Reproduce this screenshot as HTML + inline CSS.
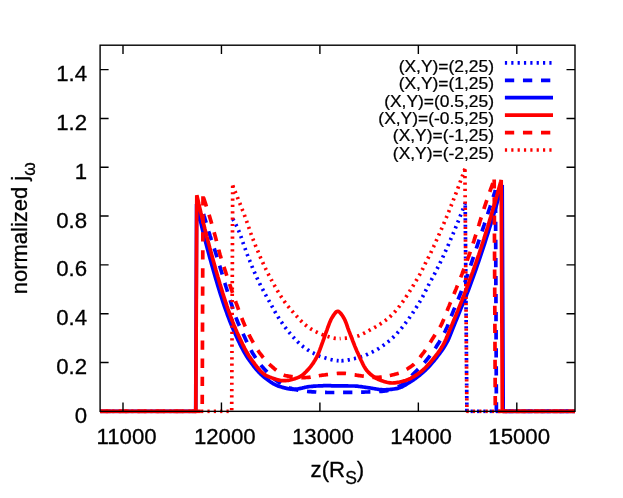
<!DOCTYPE html>
<html><head><meta charset="utf-8"><title>plot</title>
<style>html,body{margin:0;padding:0;background:#fff;}body{width:623px;height:498px;overflow:hidden;position:relative;font-family:"Liberation Sans",sans-serif;}</style>
</head><body>
<svg width="623" height="498" viewBox="0 0 623 498" style="position:absolute;left:0;top:0;will-change:transform">
<rect width="623" height="498" fill="#fff"/>
<defs><clipPath id="cp"><rect x="99.6" y="43.2" width="475.4" height="370.2"/></clipPath></defs>
<g clip-path="url(#cp)" fill="none" stroke-linejoin="bevel" stroke-linecap="butt">
<path d="M232.6,218.6 233.6,220.3 234.6,222.1 235.6,224.0 236.6,226.0 237.6,228.2 238.6,230.5 239.6,232.9 240.6,235.5 241.6,238.4 242.6,241.5 243.6,244.4 244.6,247.2 245.6,249.9 246.6,252.6 247.6,255.3 248.6,257.9 249.6,260.4 250.6,263.0 251.6,265.4 252.6,267.9 253.6,270.3 254.6,272.6 255.6,274.9 256.6,277.1 257.6,279.2 258.6,281.3 259.6,283.4 260.6,285.4 261.6,287.3 262.6,289.2 263.6,291.1 264.6,293.0 265.6,294.8 266.6,296.6 267.6,298.4 268.6,300.2 269.6,301.9 270.6,303.7 271.6,305.5 272.6,307.4 273.6,309.2 274.6,311.0 275.6,312.8 276.6,314.6 277.6,316.2 278.6,317.8 279.6,319.4 280.6,320.9 281.6,322.3 282.6,323.8 283.6,325.2 284.6,326.6 285.6,327.9 286.6,329.2 287.6,330.5 288.6,331.7 289.6,332.9 290.6,334.1 291.6,335.2 292.6,336.4 293.6,337.5 294.6,338.6 295.6,339.7 296.6,340.7 297.6,341.7 298.6,342.7 299.6,343.6 300.6,344.5 301.6,345.4 302.6,346.2 303.6,347.0 304.6,347.7 305.6,348.4 306.6,349.1 307.6,349.8 308.6,350.4 309.6,351.0 310.6,351.6 311.6,352.2 312.6,352.7 313.6,353.2 314.6,353.8 315.6,354.3 316.6,354.8 317.6,355.3 318.6,355.7 319.6,356.2 320.6,356.6 321.6,356.9 322.6,357.2 323.6,357.5 324.6,357.8 325.6,358.1 326.6,358.4 327.6,358.7 328.6,359.0 329.6,359.3 330.6,359.5 331.6,359.7 332.6,360.0 333.6,360.2 334.6,360.3 335.6,360.5 336.6,360.6 337.6,360.7 338.6,360.8" stroke="#0000ff" stroke-width="3.7" stroke-dasharray="2.20 4.15" stroke-dashoffset="6.08"/>
<path d="M339.6,360.8 340.6,360.8 341.6,360.8 342.6,360.7 343.6,360.6 344.6,360.5 345.6,360.4 346.6,360.2 347.6,360.1 348.6,359.9 349.6,359.7 350.6,359.5 351.6,359.3 352.6,359.0 353.6,358.8 354.6,358.6 355.6,358.3 356.6,358.1 357.6,357.9 358.6,357.6 359.6,357.3 360.6,357.0 361.6,356.7 362.6,356.4 363.6,356.0 364.6,355.6 365.6,355.2 366.6,354.7 367.6,354.3 368.6,353.8 369.6,353.4 370.6,352.9 371.6,352.4 372.6,351.9 373.6,351.4 374.6,350.9 375.6,350.3 376.6,349.8 377.6,349.2 378.6,348.6 379.6,347.9 380.6,347.3 381.6,346.6 382.6,345.9 383.6,345.2 384.6,344.5 385.6,343.7 386.6,342.9 387.6,342.2 388.6,341.4 389.6,340.6 390.6,339.7 391.6,338.8 392.6,337.9 393.6,336.9 394.6,335.9 395.6,334.9 396.6,333.8 397.6,332.7 398.6,331.6 399.6,330.4 400.6,329.3 401.6,328.1 402.6,326.8 403.6,325.6 404.6,324.3 405.6,323.0 406.6,321.6 407.6,320.3 408.6,318.9 409.6,317.5 410.6,316.0 411.6,314.6 412.6,313.1 413.6,311.6 414.6,310.0 415.6,308.5 416.6,306.9 417.6,305.3 418.6,303.7 419.6,302.1 420.6,300.4 421.6,298.6 422.6,296.8 423.6,294.8 424.6,292.9 425.6,290.9 426.6,288.9 427.6,286.9 428.6,285.0 429.6,283.1 430.6,281.2 431.6,279.4 432.6,277.5 433.6,275.7 434.6,273.8 435.6,271.9 436.6,269.9 437.6,267.9 438.6,265.9 439.6,263.9 440.6,261.8 441.6,259.7 442.6,257.6 443.6,255.4 444.6,253.2 445.6,251.0 446.6,248.8 447.6,246.5 448.6,244.2 449.6,241.9 450.6,239.6 451.6,237.3 452.6,234.9 453.6,232.5 454.6,230.1 455.6,227.7 456.6,225.3 457.6,222.8 458.6,220.3 459.6,217.8 460.6,215.2 461.6,212.7 462.6,210.1 463.6,207.4 464.6,204.8 465.2,203.2" stroke="#0000ff" stroke-width="3.7" stroke-dasharray="2.20 4.15" stroke-dashoffset="4.56"/>
<path d="M465.2,203.2 466.9,411.4 575.0,411.4" stroke="#0000ff" stroke-width="3.7" stroke-dasharray="2.20 4.15" stroke-dashoffset="3.95"/>
<path d="M203.0,212.0 204.0,215.5 205.0,218.9 206.0,222.3 207.0,225.7 208.0,229.0 209.0,232.3 210.0,235.5 211.0,238.6 212.0,241.6 213.0,244.7 214.0,247.7 215.0,250.8 216.0,253.9 217.0,257.1 218.0,260.3 219.0,263.6 220.0,266.9 221.0,270.2 222.0,273.5 223.0,276.8 224.0,280.1 225.0,283.5 226.0,286.8 227.0,290.0 228.0,293.3 229.0,296.5 230.0,299.6 231.0,302.8 232.0,305.8 233.0,308.9 234.0,312.0 235.0,314.9 236.0,317.7 237.0,320.3 238.0,322.7 239.0,325.1 240.0,327.3 241.0,329.5 242.0,331.6 243.0,333.7 244.0,335.8 245.0,337.9 246.0,340.1 247.0,342.2 248.0,344.3 249.0,346.3 250.0,348.3 251.0,350.2 252.0,352.0 253.0,353.7 254.0,355.3 255.0,356.9 256.0,358.4 257.0,359.8 258.0,361.3 259.0,362.6 260.0,363.9 261.0,365.2 262.0,366.4 263.0,367.6 264.0,368.7 265.0,369.8 266.0,370.9 267.0,371.9 268.0,373.0 269.0,374.0 270.0,375.0 271.0,375.9 272.0,376.9 273.0,377.8 274.0,378.7 275.0,379.5 276.0,380.3 277.0,381.0 278.0,381.7 279.0,382.4 280.0,383.0 281.0,383.6 282.0,384.1 283.0,384.7 284.0,385.2 285.0,385.7 286.0,386.2 287.0,386.7 288.0,387.1 289.0,387.6 290.0,388.0" stroke="#0000ff" stroke-width="3.7" stroke-dasharray="9.30 8.75" stroke-dashoffset="16.08"/>
<path d="M290.0,388.0 291.0,388.3 292.0,388.7 293.0,389.0 294.0,389.3 295.0,389.5 296.0,389.7 297.0,389.9 298.0,390.1 299.0,390.3 300.0,390.5 301.0,390.7 302.0,390.8 303.0,391.0 304.0,391.1 305.0,391.2 306.0,391.3 307.0,391.4 308.0,391.5 309.0,391.6 310.0,391.6 311.0,391.7 312.0,391.8 313.0,391.8 314.0,391.9 315.0,392.0 316.0,392.0 317.0,392.1 318.0,392.1 319.0,392.2 320.0,392.2 321.0,392.3 322.0,392.3 323.0,392.4 324.0,392.4 325.0,392.4 326.0,392.4 327.0,392.5 328.0,392.5 329.0,392.5 330.0,392.5 331.0,392.5 332.0,392.5 333.0,392.5 334.0,392.5 335.0,392.5 336.0,392.5 337.0,392.5 338.0,392.5 339.0,392.5 340.0,392.5 341.0,392.5 342.0,392.4 343.0,392.4 344.0,392.4 345.0,392.4 346.0,392.4 347.0,392.4 348.0,392.4 349.0,392.4 350.0,392.3 351.0,392.3 352.0,392.3 353.0,392.3 354.0,392.3 355.0,392.3 356.0,392.2 357.0,392.2 358.0,392.2 359.0,392.2 360.0,392.2 361.0,392.1 362.0,392.1 363.0,392.1 364.0,392.1 365.0,392.0 366.0,392.0 367.0,392.0 368.0,392.0 369.0,391.9 370.0,391.9 371.0,391.9 372.0,391.8 373.0,391.8 374.0,391.8 375.0,391.7 376.0,391.7 377.0,391.6 378.0,391.6 379.0,391.5 380.0,391.4 381.0,391.3 382.0,391.3 383.0,391.2 384.0,391.1 385.0,391.0 386.0,390.9 387.0,390.7 388.0,390.5 389.0,390.3 390.0,390.0 391.0,389.7 392.0,389.4" stroke="#0000ff" stroke-width="3.7" stroke-dasharray="9.30 8.75" stroke-dashoffset="0.62"/>
<path d="M392.0,389.4 393.0,389.1 394.0,388.7 395.0,388.3 396.0,387.9 397.0,387.4 398.0,387.0 399.0,386.5 400.0,386.0 401.0,385.5 402.0,384.8 403.0,384.1 404.0,383.3 405.0,382.4 406.0,381.5 407.0,380.6 408.0,379.6 409.0,378.5 410.0,377.5 411.0,376.4 412.0,375.4 413.0,374.3 414.0,373.3 415.0,372.3 416.0,371.3 417.0,370.3 418.0,369.3 419.0,368.3 420.0,367.3 421.0,366.2 422.0,365.2 423.0,364.1 424.0,363.0 425.0,361.9 426.0,360.7 427.0,359.5 428.0,358.3 429.0,357.0 430.0,355.7 431.0,354.4 432.0,353.0 433.0,351.6 434.0,350.2 435.0,348.7 436.0,347.2 437.0,345.6 438.0,344.0 439.0,342.4 440.0,340.7 441.0,339.0 442.0,337.2 443.0,335.4 444.0,333.5 445.0,331.5 446.0,329.4 447.0,327.2 448.0,324.8 449.0,322.3 450.0,319.7 451.0,317.1 452.0,314.4 453.0,311.9 454.0,309.4 455.0,307.0 456.0,304.5 457.0,302.1 458.0,299.7 459.0,297.2 460.0,294.7 461.0,292.2 462.0,289.7 463.0,287.1 464.0,284.5 465.0,281.9 466.0,279.1 467.0,276.3 468.0,273.4 469.0,270.4 470.0,267.4 471.0,264.4 472.0,261.4 473.0,258.4 474.0,255.4 475.0,252.4 476.0,249.4 477.0,246.4 478.0,243.4 479.0,240.4 480.0,237.4 481.0,234.4 482.0,231.3 483.0,228.3 484.0,225.3 485.0,222.2 486.0,219.2 487.0,216.2 488.0,213.1 489.0,210.0 490.0,207.0 491.0,203.9 492.0,200.8 493.0,197.7 494.0,194.6 495.0,191.6 495.5,190.0" stroke="#0000ff" stroke-width="3.7" stroke-dasharray="9.30 8.75" stroke-dashoffset="11.75"/>
<path d="M495.5,190.0 496.4,411.4 575.0,411.4" stroke="#0000ff" stroke-width="3.7" stroke-dasharray="9.30 8.75" stroke-dashoffset="4.30"/>
<path d="M100.1,411.4 195.7,411.4 196.6,204.0 197.6,208.5 198.6,212.9 199.6,217.3 200.6,221.6 201.6,225.9 202.6,230.0 203.6,234.1 204.6,238.1 205.6,241.9 206.6,245.7 207.6,249.5 208.6,253.2 209.6,256.9 210.6,260.6 211.6,264.2 212.6,267.8 213.6,271.3 214.6,274.8 215.6,278.2 216.6,281.6 217.6,285.0 218.6,288.3 219.6,291.5 220.6,294.7 221.6,297.8 222.6,300.9 223.6,303.9 224.6,306.8 225.6,309.7 226.6,312.5 227.6,315.3 228.6,317.9 229.6,320.5 230.6,323.1 231.6,325.6 232.6,328.0 233.6,330.3 234.6,332.6 235.6,334.8 236.6,336.9 237.6,339.1 238.6,341.2 239.6,343.3 240.6,345.3 241.6,347.3 242.6,349.2 243.6,351.1 244.6,352.9 245.6,354.6 246.6,356.2 247.6,357.8 248.6,359.2 249.6,360.6 250.6,362.0 251.6,363.4 252.6,364.7 253.6,366.0 254.6,367.3 255.6,368.5 256.6,369.7 257.6,370.8 258.6,371.9 259.6,373.0 260.6,374.0 261.6,374.9 262.6,375.8 263.6,376.7 264.6,377.5 265.6,378.3 266.6,379.1 267.6,379.8 268.6,380.6 269.6,381.3 270.6,382.0 271.6,382.6 272.6,383.3 273.6,383.9 274.6,384.4 275.6,384.9 276.6,385.4 277.6,385.8 278.6,386.2 279.6,386.5 280.6,386.8 281.6,387.1 282.6,387.4 283.6,387.6 284.6,387.9 285.6,388.1 286.6,388.4 287.6,388.6 288.6,388.8 289.6,388.9 290.6,389.1 291.6,389.2 292.6,389.3 293.6,389.3 294.6,389.3 295.6,389.2 296.6,389.1 297.6,389.0 298.6,388.8 299.6,388.6 300.6,388.4 301.6,388.2 302.6,387.9 303.6,387.7 304.6,387.4 305.6,387.2 306.6,387.0 307.6,386.8 308.6,386.7 309.6,386.5 310.6,386.5 311.6,386.4 312.6,386.3 313.6,386.2 314.6,386.2 315.6,386.1 316.6,386.0 317.6,386.0 318.6,385.9 319.6,385.9 320.6,385.8 321.6,385.8 322.6,385.8 323.6,385.7 324.6,385.7 325.6,385.7 326.6,385.7 327.6,385.7 328.6,385.7 329.6,385.7 330.6,385.7 331.6,385.8 332.6,385.8 333.6,385.8 334.6,385.8 335.6,385.8 336.6,385.8 337.6,385.9 338.6,385.9 339.6,385.9 340.6,385.9 341.6,385.9 342.6,385.9 343.6,385.9 344.6,385.9 345.6,385.9 346.6,385.9 347.6,385.9 348.6,386.0 349.6,386.0 350.6,386.0 351.6,386.0 352.6,386.0 353.6,386.0 354.6,386.0 355.6,386.1 356.6,386.2 357.6,386.2 358.6,386.4 359.6,386.5 360.6,386.6 361.6,386.7 362.6,386.9 363.6,387.0 364.6,387.2 365.6,387.3 366.6,387.5 367.6,387.6 368.6,387.8 369.6,387.9 370.6,388.0 371.6,388.2 372.6,388.4 373.6,388.5 374.6,388.7 375.6,388.9 376.6,389.0 377.6,389.2 378.6,389.4 379.6,389.5 380.6,389.6 381.6,389.7 382.6,389.8 383.6,389.8 384.6,389.8 385.6,389.8 386.6,389.7 387.6,389.7 388.6,389.6 389.6,389.5 390.6,389.4 391.6,389.3 392.6,389.2 393.6,389.0 394.6,388.9 395.6,388.7 396.6,388.6 397.6,388.4 398.6,388.1 399.6,387.8 400.6,387.4 401.6,387.0 402.6,386.5 403.6,385.9 404.6,385.4 405.6,384.8 406.6,384.2 407.6,383.5 408.6,382.9 409.6,382.3 410.6,381.7 411.6,381.1 412.6,380.4 413.6,379.8 414.6,379.1 415.6,378.4 416.6,377.6 417.6,376.8 418.6,376.1 419.6,375.3 420.6,374.4 421.6,373.6 422.6,372.7 423.6,371.8 424.6,370.9 425.6,370.0 426.6,369.0 427.6,368.0 428.6,366.9 429.6,365.9 430.6,364.7 431.6,363.6 432.6,362.4 433.6,361.2 434.6,360.0 435.6,358.7 436.6,357.5 437.6,356.2 438.6,354.9 439.6,353.6 440.6,352.2 441.6,350.8 442.6,349.4 443.6,347.9 444.6,346.3 445.6,344.7 446.6,342.9 447.6,341.1 448.6,339.0 449.6,336.6 450.6,334.1 451.6,331.5 452.6,329.0 453.6,326.6 454.6,324.1 455.6,321.6 456.6,319.2 457.6,316.7 458.6,314.2 459.6,311.8 460.6,309.3 461.6,306.9 462.6,304.5 463.6,302.1 464.6,299.7 465.6,297.2 466.6,294.7 467.6,292.1 468.6,289.5 469.6,286.8 470.6,284.1 471.6,281.4 472.6,278.7 473.6,275.9 474.6,273.1 475.6,270.3 476.6,267.4 477.6,264.5 478.6,261.6 479.6,258.7 480.6,255.7 481.6,252.7 482.6,249.7 483.6,246.7 484.6,243.6 485.6,240.5 486.6,237.3 487.6,234.2 488.6,231.0 489.6,227.8 490.6,224.6 491.6,221.3 492.6,218.0 493.6,214.7 494.6,211.3 495.6,208.0 496.6,204.6 497.6,201.1 498.6,197.7 499.6,194.2 500.6,190.7 501.6,187.1 502.2,185.0 503.2,411.4 575.0,411.4" stroke="#0000ff" stroke-width="3.7"/>
<path d="M100.1,411.4 195.8,411.4 196.8,195.2 197.8,199.5 198.8,203.9 199.8,208.1 200.8,212.4 201.8,216.5 202.8,220.7 203.8,224.8 204.8,228.8 205.8,232.7 206.8,236.6 207.8,240.4 208.8,244.1 209.8,247.9 210.8,251.6 211.8,255.2 212.8,258.9 213.8,262.5 214.8,266.1 215.8,269.7 216.8,273.2 217.8,276.7 218.8,280.1 219.8,283.5 220.8,286.8 221.8,290.1 222.8,293.4 223.8,296.5 224.8,299.6 225.8,302.7 226.8,305.7 227.8,308.6 228.8,311.4 229.8,314.2 230.8,316.9 231.8,319.5 232.8,322.1 233.8,324.6 234.8,327.0 235.8,329.4 236.8,331.7 237.8,333.9 238.8,336.1 239.8,338.2 240.8,340.4 241.8,342.5 242.8,344.6 243.8,346.6 244.8,348.6 245.8,350.5 246.8,352.3 247.8,354.0 248.8,355.7 249.8,357.2 250.8,358.6 251.8,360.0 252.8,361.4 253.8,362.7 254.8,364.1 255.8,365.4 256.8,366.7 257.8,367.9 258.8,369.1 259.8,370.2 260.8,371.2 261.8,372.2 262.8,373.1 263.8,373.9 264.8,374.7 265.8,375.3 266.8,375.8 267.8,376.3 268.8,376.7 269.8,377.1 270.8,377.5 271.8,377.9 272.8,378.3 273.8,378.7 274.8,379.0 275.8,379.3 276.8,379.6 277.8,379.9 278.8,380.1 279.8,380.3 280.8,380.5 281.8,380.6 282.8,380.7 283.8,380.7 284.8,380.7 285.8,380.6 286.8,380.5 287.8,380.4 288.8,380.3 289.8,380.1 290.8,379.8 291.8,379.6 292.8,379.3 293.8,379.0 294.8,378.7 295.8,378.3 296.8,378.0 297.8,377.6 298.8,377.2 299.8,376.8 300.8,376.2 301.8,375.6 302.8,374.8 303.8,373.9 304.8,373.0 305.8,372.0 306.8,370.9 307.8,369.9 308.8,368.8 309.8,367.6 310.8,366.4 311.8,365.0 312.8,363.6 313.8,362.1 314.8,360.5 315.8,358.8 316.8,356.9 317.8,354.8 318.8,352.5 319.8,349.9 320.8,347.2 321.8,344.4 322.8,341.7 323.8,338.9 324.8,335.9 325.8,333.0 326.8,330.3 327.8,327.5 328.8,324.8 329.8,322.2 330.8,319.9 331.8,318.0 332.8,316.4 333.8,314.9 334.8,313.5 335.8,312.3 336.8,311.5 337.8,311.3 338.8,311.6 339.8,312.4 340.8,313.5 341.8,314.8 342.8,316.3 343.8,317.9 344.8,319.8 345.8,322.2 346.8,324.9 347.8,327.8 348.8,330.6 349.8,333.2 350.8,335.8 351.8,338.4 352.8,341.0 353.8,343.5 354.8,346.1 355.8,348.5 356.8,350.9 357.8,353.1 358.8,355.3 359.8,357.5 360.8,359.7 361.8,361.8 362.8,363.9 363.8,365.8 364.8,367.6 365.8,369.2 366.8,370.5 367.8,371.6 368.8,372.6 369.8,373.6 370.8,374.5 371.8,375.3 372.8,376.1 373.8,376.8 374.8,377.5 375.8,378.1 376.8,378.7 377.8,379.2 378.8,379.6 379.8,380.0 380.8,380.4 381.8,380.7 382.8,381.1 383.8,381.4 384.8,381.7 385.8,382.0 386.8,382.3 387.8,382.5 388.8,382.7 389.8,382.8 390.8,382.9 391.8,383.0 392.8,383.0 393.8,382.9 394.8,382.9 395.8,382.7 396.8,382.6 397.8,382.4 398.8,382.2 399.8,382.0 400.8,381.7 401.8,381.5 402.8,381.2 403.8,380.9 404.8,380.7 405.8,380.4 406.8,380.0 407.8,379.6 408.8,379.2 409.8,378.8 410.8,378.3 411.8,377.7 412.8,377.2 413.8,376.6 414.8,376.0 415.8,375.3 416.8,374.7 417.8,374.0 418.8,373.3 419.8,372.6 420.8,371.8 421.8,371.0 422.8,370.1 423.8,369.2 424.8,368.3 425.8,367.3 426.8,366.2 427.8,365.1 428.8,364.0 429.8,362.9 430.8,361.8 431.8,360.6 432.8,359.4 433.8,358.2 434.8,357.0 435.8,355.7 436.8,354.4 437.8,353.1 438.8,351.7 439.8,350.2 440.8,348.7 441.8,347.1 442.8,345.4 443.8,343.6 444.8,341.6 445.8,339.4 446.8,337.1 447.8,334.6 448.8,332.2 449.8,329.8 450.8,327.5 451.8,325.1 452.8,322.7 453.8,320.3 454.8,317.9 455.8,315.5 456.8,313.0 457.8,310.6 458.8,308.1 459.8,305.6 460.8,303.1 461.8,300.6 462.8,298.0 463.8,295.5 464.8,292.9 465.8,290.3 466.8,287.7 467.8,285.0 468.8,282.4 469.8,279.7 470.8,277.0 471.8,274.3 472.8,271.6 473.8,268.8 474.8,266.0 475.8,263.2 476.8,260.3 477.8,257.4 478.8,254.5 479.8,251.5 480.8,248.5 481.8,245.4 482.8,242.4 483.8,239.3 484.8,236.1 485.8,232.9 486.8,229.7 487.8,226.5 488.8,223.2 489.8,219.9 490.8,216.6 491.8,213.2 492.8,209.8 493.8,206.4 494.8,202.9 495.8,199.4 496.8,195.9 497.8,192.3 498.8,188.7 499.8,185.1 500.8,181.5 501.2,180.0 502.3,411.4 575.0,411.4" stroke="#ff0000" stroke-width="3.7"/>
<path d="M100.1,411.4 202.2,411.4 203.0,196.3" stroke="#ff0000" stroke-width="3.7" stroke-dasharray="9.30 8.75" stroke-dashoffset="16.85"/>
<path d="M203.0,196.3 204.0,199.2 205.0,202.2 206.0,205.2 207.0,208.3 208.0,211.5 209.0,214.7 210.0,217.9 211.0,221.3 212.0,224.7 213.0,228.2 214.0,231.8 215.0,235.4 216.0,239.2 217.0,243.2 218.0,247.3 219.0,251.1 220.0,254.6 221.0,257.9 222.0,261.1 223.0,264.2 224.0,267.2 225.0,270.2 226.0,273.2 227.0,276.3 228.0,279.3 229.0,282.3 230.0,285.2 231.0,288.2 232.0,291.1 233.0,294.0 234.0,296.9 235.0,299.7 236.0,302.6 237.0,305.3 238.0,308.1 239.0,310.9 240.0,313.6 241.0,316.2 242.0,318.8 243.0,321.2 244.0,323.6 245.0,325.9 246.0,328.2 247.0,330.4 248.0,332.5 249.0,334.6 250.0,336.6 251.0,338.5 252.0,340.4 253.0,342.2 254.0,344.0 255.0,345.7 256.0,347.4 257.0,349.0 258.0,350.5 259.0,352.0 260.0,353.4 261.0,354.7 262.0,356.0 263.0,357.3 264.0,358.5 265.0,359.7 266.0,360.9 267.0,362.0 268.0,363.0 269.0,364.0 270.0,364.9 271.0,365.8 272.0,366.6 273.0,367.5 274.0,368.4 275.0,369.2 276.0,370.0 277.0,370.8 278.0,371.6 279.0,372.3 280.0,373.0 281.0,373.7 282.0,374.2 283.0,374.7 284.0,375.1 285.0,375.5 286.0,375.7 287.0,375.9 288.0,376.1 289.0,376.2 290.0,376.4 291.0,376.6 292.0,376.7 293.0,376.8 294.0,377.0 295.0,377.1 296.0,377.2 297.0,377.3 298.0,377.4 299.0,377.4 300.0,377.5 301.0,377.5 302.0,377.6 303.0,377.6 304.0,377.6 305.0,377.6 306.0,377.5 307.0,377.5 308.0,377.4 309.0,377.3 310.0,377.2 311.0,377.0 312.0,376.9 313.0,376.7 314.0,376.6" stroke="#ff0000" stroke-width="3.7" stroke-dasharray="9.30 8.75" stroke-dashoffset="16.62"/>
<path d="M314.0,376.6 315.0,376.4 316.0,376.2 317.0,376.0 318.0,375.9 319.0,375.7 320.0,375.5 321.0,375.4 322.0,375.2 323.0,375.1 324.0,375.0 325.0,374.9 326.0,374.7 327.0,374.6 328.0,374.5 329.0,374.4 330.0,374.3 331.0,374.1 332.0,374.0 333.0,373.9 334.0,373.8 335.0,373.7 336.0,373.6 337.0,373.5 338.0,373.4 339.0,373.4 340.0,373.3 341.0,373.3 342.0,373.3 343.0,373.3 344.0,373.3 345.0,373.4 346.0,373.5 347.0,373.6 348.0,373.8 349.0,373.9 350.0,374.1 351.0,374.2 352.0,374.4 353.0,374.6 354.0,374.8 355.0,374.9 356.0,375.1 357.0,375.3 358.0,375.4 359.0,375.6 360.0,375.7 361.0,375.8 362.0,376.0 363.0,376.1 364.0,376.2 365.0,376.4 366.0,376.5 367.0,376.7 368.0,376.8 369.0,376.9 370.0,377.0 371.0,377.1 372.0,377.2 373.0,377.3 374.0,377.4 375.0,377.4 376.0,377.4 377.0,377.4 378.0,377.4 379.0,377.3 380.0,377.2 381.0,377.1 382.0,377.0 383.0,376.9 384.0,376.7 385.0,376.5 386.0,376.4" stroke="#ff0000" stroke-width="3.7" stroke-dasharray="9.30 8.75" stroke-dashoffset="13.14"/>
<path d="M386.0,376.4 387.0,376.2 388.0,376.0 389.0,375.7 390.0,375.5 391.0,375.3 392.0,375.0 393.0,374.8 394.0,374.6 395.0,374.3 396.0,374.0 397.0,373.8 398.0,373.4 399.0,373.1 400.0,372.7 401.0,372.2 402.0,371.8 403.0,371.3 404.0,370.8 405.0,370.2 406.0,369.7 407.0,369.1 408.0,368.5 409.0,367.8 410.0,367.2 411.0,366.5 412.0,365.8 413.0,365.0 414.0,364.1 415.0,363.1 416.0,362.0 417.0,360.9 418.0,359.8 419.0,358.6 420.0,357.3 421.0,356.0 422.0,354.7 423.0,353.4 424.0,352.1 425.0,350.7 426.0,349.3 427.0,347.8 428.0,346.2 429.0,344.6 430.0,342.9 431.0,341.3 432.0,339.6 433.0,338.0 434.0,336.4 435.0,334.9 436.0,333.4 437.0,331.9 438.0,330.5 439.0,328.9 440.0,327.2 441.0,325.4 442.0,323.4 443.0,321.1 444.0,318.7 445.0,316.2 446.0,313.7 447.0,311.1 448.0,308.5 449.0,306.1 450.0,303.6 451.0,301.2 452.0,298.8 453.0,296.4 454.0,294.0 455.0,291.5 456.0,289.1 457.0,286.6 458.0,284.1 459.0,281.7 460.0,279.1 461.0,276.6 462.0,274.1 463.0,271.5 464.0,268.9 465.0,266.3 466.0,263.6 467.0,260.9 468.0,258.2 469.0,255.5 470.0,252.6 471.0,249.7 472.0,246.7 473.0,243.7 474.0,240.6 475.0,237.4 476.0,234.2 477.0,231.0 478.0,227.8 479.0,224.6 480.0,221.3 481.0,218.1 482.0,215.0 483.0,211.8 484.0,208.7 485.0,205.7 486.0,202.7 487.0,199.8 488.0,196.9 489.0,194.0 490.0,191.2 491.0,188.4 492.0,185.6 493.0,182.8 494.0,180.0 494.2,179.5" stroke="#ff0000" stroke-width="3.7" stroke-dasharray="9.30 8.75" stroke-dashoffset="14.17"/>
<path d="M494.2,179.5 495.3,411.4 575.0,411.4" stroke="#ff0000" stroke-width="3.7" stroke-dasharray="9.30 8.75" stroke-dashoffset="0.20"/>
<path d="M100.1,411.4 231.7,411.4 232.7,185.4" stroke="#ff0000" stroke-width="3.7" stroke-dasharray="2.20 4.15" stroke-dashoffset="0.60"/>
<path d="M232.7,185.4 233.7,187.9 234.7,190.4 235.7,192.9 236.7,195.5 237.7,198.0 238.7,200.5 239.7,203.0 240.7,205.5 241.7,208.0 242.7,210.6 243.7,213.1 244.7,215.8 245.7,218.5 246.7,221.3 247.7,224.2 248.7,227.2 249.7,230.1 250.7,233.0 251.7,235.8 252.7,238.5 253.7,241.0 254.7,243.5 255.7,246.0 256.7,248.4 257.7,250.8 258.7,253.2 259.7,255.6 260.7,257.9 261.7,260.1 262.7,262.4 263.7,264.5 264.7,266.7 265.7,268.8 266.7,270.8 267.7,272.8 268.7,274.8 269.7,276.7 270.7,278.6 271.7,280.5 272.7,282.3 273.7,284.1 274.7,285.9 275.7,287.7 276.7,289.4 277.7,291.1 278.7,292.7 279.7,294.4 280.7,295.9 281.7,297.5 282.7,299.0 283.7,300.5 284.7,301.9 285.7,303.3 286.7,304.6 287.7,305.9 288.7,307.1 289.7,308.3 290.7,309.5 291.7,310.6 292.7,311.8 293.7,312.9 294.7,314.1 295.7,315.2 296.7,316.3 297.7,317.4 298.7,318.5 299.7,319.6 300.7,320.6 301.7,321.6 302.7,322.6 303.7,323.5 304.7,324.4 305.7,325.2 306.7,326.0 307.7,326.8 308.7,327.5 309.7,328.2 310.7,328.8 311.7,329.4 312.7,330.0 313.7,330.6 314.7,331.1 315.7,331.7 316.7,332.2 317.7,332.7 318.7,333.2 319.7,333.6 320.7,334.0 321.7,334.4 322.7,334.8 323.7,335.1 324.7,335.5 325.7,335.8 326.7,336.2 327.7,336.5 328.7,336.8 329.7,337.1 330.7,337.4 331.7,337.7 332.7,337.9 333.7,338.1 334.7,338.3 335.7,338.4 336.7,338.5 337.7,338.6 338.7,338.6" stroke="#ff0000" stroke-width="3.7" stroke-dasharray="2.20 4.15" stroke-dashoffset="0.11"/>
<path d="M339.7,338.6 340.7,338.5 341.7,338.5 342.7,338.4 343.7,338.4 344.7,338.3 345.7,338.2 346.7,338.1 347.7,338.0 348.7,337.8 349.7,337.7 350.7,337.6 351.7,337.4 352.7,337.3 353.7,337.1 354.7,336.9 355.7,336.7 356.7,336.4 357.7,336.1 358.7,335.8 359.7,335.3 360.7,334.9 361.7,334.4 362.7,333.9 363.7,333.4 364.7,332.9 365.7,332.3 366.7,331.7 367.7,331.2 368.7,330.6 369.7,330.1 370.7,329.5 371.7,329.0 372.7,328.5 373.7,327.9 374.7,327.3 375.7,326.8 376.7,326.2 377.7,325.6 378.7,325.0 379.7,324.4 380.7,323.7 381.7,323.0 382.7,322.4 383.7,321.7 384.7,320.9 385.7,320.2 386.7,319.4 387.7,318.6 388.7,317.8 389.7,316.9 390.7,316.0 391.7,315.0 392.7,314.0 393.7,313.0 394.7,311.9 395.7,310.8 396.7,309.6 397.7,308.4 398.7,307.1 399.7,305.9 400.7,304.5 401.7,303.2 402.7,301.8 403.7,300.4 404.7,298.9 405.7,297.4 406.7,295.9 407.7,294.4 408.7,292.9 409.7,291.3 410.7,289.7 411.7,288.1 412.7,286.4 413.7,284.8 414.7,283.1 415.7,281.4 416.7,279.7 417.7,278.0 418.7,276.3 419.7,274.6 420.7,272.8 421.7,270.9 422.7,268.9 423.7,266.8 424.7,264.7 425.7,262.7 426.7,260.7 427.7,258.8 428.7,256.9 429.7,254.9 430.7,252.9 431.7,250.7 432.7,248.6 433.7,246.4 434.7,244.2 435.7,242.0 436.7,239.8 437.7,237.6 438.7,235.3 439.7,233.1 440.7,230.8 441.7,228.5 442.7,226.1 443.7,223.8 444.7,221.4 445.7,219.1 446.7,216.7 447.7,214.2 448.7,211.8 449.7,209.3 450.7,206.8 451.7,204.3 452.7,201.8 453.7,199.2 454.7,196.6 455.7,194.0 456.7,191.4 457.7,188.7 458.7,186.0 459.7,183.3 460.7,180.5 461.7,177.8 462.7,175.0 463.7,172.1 464.7,169.3 464.9,168.7" stroke="#ff0000" stroke-width="3.7" stroke-dasharray="2.20 4.15" stroke-dashoffset="1.25"/>
<path d="M464.9,168.7 466.9,411.4 575.0,411.4" stroke="#ff0000" stroke-width="3.7" stroke-dasharray="2.20 4.15" stroke-dashoffset="5.30"/>
</g>
<g stroke="#000" stroke-width="1.4" fill="none">
<rect x="100.1" y="45.2" width="474.9" height="366.15000000000003"/>
<path d="M123.00,411.35 v-8.8 M123.00,45.2 v8.8"/>
<path d="M221.45,411.35 v-8.8 M221.45,45.2 v8.8"/>
<path d="M319.90,411.35 v-8.8 M319.90,45.2 v8.8"/>
<path d="M418.35,411.35 v-8.8 M418.35,45.2 v8.8"/>
<path d="M516.80,411.35 v-8.8 M516.80,45.2 v8.8"/>
<path d="M100.1,362.53 h8.5 M575.0,362.53 h-8.5"/>
<path d="M100.1,313.71 h8.5 M575.0,313.71 h-8.5"/>
<path d="M100.1,264.89 h8.5 M575.0,264.89 h-8.5"/>
<path d="M100.1,216.07 h8.5 M575.0,216.07 h-8.5"/>
<path d="M100.1,167.25 h8.5 M575.0,167.25 h-8.5"/>
<path d="M100.1,118.43 h8.5 M575.0,118.43 h-8.5"/>
<path d="M100.1,69.61 h8.5 M575.0,69.61 h-8.5"/>
</g>
<g font-family="Liberation Sans, sans-serif" font-size="22.8px" fill="#000" stroke="#000" stroke-width="0.3">
<text x="87.1" y="422.9" text-anchor="end" transform="translate(87.1 0) scale(0.975 1) translate(-87.1 0)">0</text>
<text x="87.1" y="374.0" text-anchor="end" transform="translate(87.1 0) scale(0.975 1) translate(-87.1 0)">0.2</text>
<text x="87.1" y="325.2" text-anchor="end" transform="translate(87.1 0) scale(0.975 1) translate(-87.1 0)">0.4</text>
<text x="87.1" y="276.4" text-anchor="end" transform="translate(87.1 0) scale(0.975 1) translate(-87.1 0)">0.6</text>
<text x="87.1" y="227.6" text-anchor="end" transform="translate(87.1 0) scale(0.975 1) translate(-87.1 0)">0.8</text>
<text x="87.1" y="178.8" text-anchor="end" transform="translate(87.1 0) scale(0.975 1) translate(-87.1 0)">1</text>
<text x="87.1" y="129.9" text-anchor="end" transform="translate(87.1 0) scale(0.975 1) translate(-87.1 0)">1.2</text>
<text x="87.1" y="81.1" text-anchor="end" transform="translate(87.1 0) scale(0.975 1) translate(-87.1 0)">1.4</text>
<text x="126.6" y="444.4" text-anchor="middle" transform="translate(126.6 0) scale(0.975 1) translate(-126.6 0)">11000</text>
<text x="224.8" y="444.4" text-anchor="middle" transform="translate(224.8 0) scale(0.975 1) translate(-224.8 0)">12000</text>
<text x="322.9" y="444.4" text-anchor="middle" transform="translate(322.9 0) scale(0.975 1) translate(-322.9 0)">13000</text>
<text x="421.1" y="444.4" text-anchor="middle" transform="translate(421.1 0) scale(0.975 1) translate(-421.1 0)">14000</text>
<text x="519.2" y="444.4" text-anchor="middle" transform="translate(519.2 0) scale(0.975 1) translate(-519.2 0)">15000</text>
<text x="310.6" y="476.9" transform="translate(310.6 0) scale(0.975 1) translate(-310.6 0)">z(R<tspan font-size="18px" dy="7.2">S</tspan><tspan dy="-7.2">)</tspan></text>
<text transform="translate(27.3 294.3) rotate(-90) scale(0.965 1)" x="0" y="0">normalized j<tspan font-size="18px" dy="7.2">ω</tspan></text>
</g>
<g font-family="Liberation Sans, sans-serif" font-size="17.0px" fill="#000" stroke="#000" stroke-width="0.25">
<text x="494.0" y="71.8" text-anchor="end" transform="translate(494.0 0) scale(1.025 1) translate(-494.0 0)">(X,Y)=(2,25)</text>
<text x="494.0" y="89.2" text-anchor="end" transform="translate(494.0 0) scale(1.025 1) translate(-494.0 0)">(X,Y)=(1,25)</text>
<text x="494.0" y="106.6" text-anchor="end" transform="translate(494.0 0) scale(1.025 1) translate(-494.0 0)">(X,Y)=(0.5,25)</text>
<text x="494.0" y="124.1" text-anchor="end" transform="translate(494.0 0) scale(1.025 1) translate(-494.0 0)">(X,Y)=(-0.5,25)</text>
<text x="494.0" y="141.5" text-anchor="end" transform="translate(494.0 0) scale(1.025 1) translate(-494.0 0)">(X,Y)=(-1,25)</text>
<text x="494.0" y="158.9" text-anchor="end" transform="translate(494.0 0) scale(1.025 1) translate(-494.0 0)">(X,Y)=(-2,25)</text>
</g>
<g fill="none" stroke-linecap="butt">
<path d="M504.9,62.9 H553" stroke="#0000ff" stroke-width="3.7" stroke-dasharray="2.20 4.15"/>
<path d="M504.9,80.3 H553" stroke="#0000ff" stroke-width="3.7" stroke-dasharray="9.30 8.75"/>
<path d="M504.9,97.7 H553" stroke="#0000ff" stroke-width="3.7"/>
<path d="M504.9,115.2 H553" stroke="#ff0000" stroke-width="3.7"/>
<path d="M504.9,132.6 H553" stroke="#ff0000" stroke-width="3.7" stroke-dasharray="9.30 8.75"/>
<path d="M504.9,150.0 H553" stroke="#ff0000" stroke-width="3.7" stroke-dasharray="2.20 4.15"/>
</g>
</svg>
</body></html>
